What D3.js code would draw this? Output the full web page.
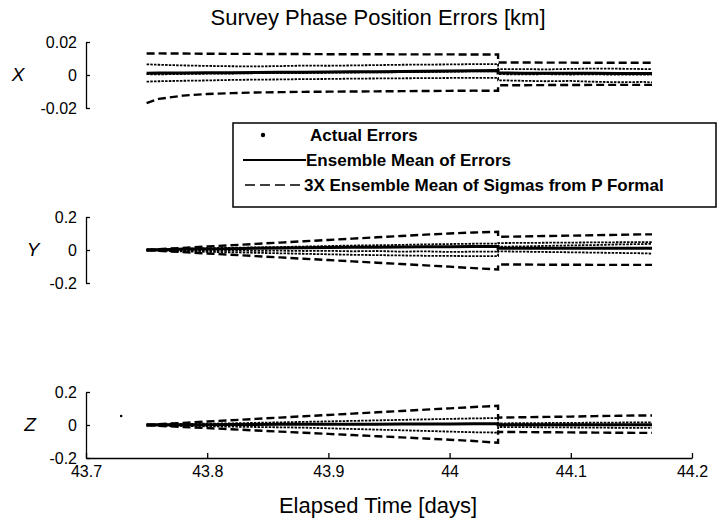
<!doctype html>
<html lang="en">
	<head>
		<meta charset="utf-8">
		<title>Survey Phase Position Errors</title>
		<script src="https://d3js.org/d3.v7.min.js"></script>
		<style>
			body { margin: 0; background: #fff; }
			text { font-family: 'Liberation Sans', Arial, sans-serif; fill: #000; }
			.axis path, .axis line { stroke: #000; stroke-width: 1.3px; }
			.sigma { fill: none; stroke: #000; stroke-width: 2.4px; stroke-dasharray: 8 4; }
			.mean { fill: none; stroke: #000; stroke-width: 3px; }
			.err { fill: none; stroke: #000; stroke-width: 1.8px; stroke-dasharray: 2.5 1.2; }
		</style>
	</head>
	<body>
		<div id="chart"></div>

		<script>
			// elapsed time grid [days]; 44.04 twice for the step
			let times = [43.75, 43.76, 43.78, 43.80, 43.82, 43.84, 43.86, 43.88, 43.90, 43.92, 43.94, 43.96,
				43.98, 44.00, 44.02, 44.04, 44.04, 44.06, 44.08, 44.10, 44.12, 44.14, 44.16, 44.167]

			let xTicks = [43.7, 43.8, 43.9, 44.0, 44.1, 44.2]

			// X component [km]
			let xSigUp = [0.013, 0.0131, 0.013, 0.0129, 0.0128, 0.0128, 0.0127, 0.0127, 0.0126, 0.0126, 0.0126, 0.0125,
				0.0125, 0.0125, 0.0124, 0.0124, 0.0076, 0.0076, 0.0075, 0.0075, 0.0074, 0.0074, 0.0074, 0.0074]
			let xSigLo = [-0.017, -0.0145, -0.0125, -0.0115, -0.011, -0.0106, -0.0104, -0.0102, -0.0101, -0.01, -0.0099, -0.0098,
				-0.0097, -0.0096, -0.0095, -0.0095, -0.0062, -0.0062, -0.0061, -0.0061, -0.006, -0.006, -0.006, -0.006]
			let xMean = [0.001, 0.0012, 0.0012, 0.0013, 0.0014, 0.0015, 0.0016, 0.0017, 0.0018, 0.0019, 0.002, 0.0021,
				0.0022, 0.0024, 0.0026, 0.0027, 0.0012, 0.0011, 0.0011, 0.001, 0.001, 0.0009, 0.0009, 0.0009]
			let xErr1 = [0.0065, 0.0062, 0.0058, 0.0055, 0.0053, 0.0052, 0.0054, 0.0057, 0.0056, 0.0058, 0.006, 0.0062,
				0.0063, 0.0064, 0.0066, 0.0066, 0.0035, 0.0036, 0.0034, 0.0037, 0.0039, 0.0038, 0.0036, 0.0036]
			let xErr2 = [-0.004, -0.0038, -0.0035, -0.0033, -0.003, -0.0028, -0.0027, -0.0025, -0.0024, -0.0022, -0.0021, -0.002,
				-0.0019, -0.0018, -0.0017, -0.0017, -0.0032, -0.0035, -0.0038, -0.0036, -0.0041, -0.0044, -0.0042, -0.0045]
			let xErr3 = [0.0005, 0.0004, 0.0006, 0.0008, 0.0009, 0.0011, 0.0012, 0.0012, 0.0014, 0.0015, 0.0016, 0.0017,
				0.0018, 0.002, 0.0022, 0.0022, 0.0005, 0.0004, 0.0005, 0.0003, 0.0004, 0.0002, 0.0003, 0.0003]

			// Y component [km]
			let ySigUp = [0.002, 0.005, 0.013, 0.021, 0.029, 0.037, 0.045, 0.053, 0.061, 0.069, 0.077, 0.085,
				0.093, 0.1, 0.106, 0.11, 0.08, 0.082, 0.085, 0.087, 0.09, 0.092, 0.095, 0.095]
			let ySigLo = [-0.002, -0.005, -0.013, -0.021, -0.029, -0.037, -0.045, -0.053, -0.061, -0.069, -0.077, -0.085,
				-0.093, -0.101, -0.11, -0.118, -0.088, -0.088, -0.089, -0.089, -0.09, -0.09, -0.09, -0.09]
			let yMean = [0.0, 0.002, 0.004, 0.006, 0.008, 0.01, 0.012, 0.014, 0.015, 0.016, 0.017, 0.018,
				0.019, 0.02, 0.021, 0.021, 0.01, 0.01, 0.01, 0.01, 0.011, 0.011, 0.011, 0.011]
			let yErr1 = [0.003, 0.005, 0.008, 0.011, 0.013, 0.016, 0.018, 0.021, 0.024, 0.027, 0.029, 0.031,
				0.034, 0.036, 0.038, 0.039, 0.042, 0.043, 0.044, 0.045, 0.046, 0.047, 0.048, 0.048]
			let yErr2 = [-0.003, -0.005, -0.008, -0.011, -0.014, -0.017, -0.02, -0.023, -0.026, -0.029, -0.031, -0.033,
				-0.035, -0.036, -0.037, -0.037, -0.008, -0.01, -0.012, -0.014, -0.016, -0.018, -0.02, -0.022]
			let yErr3 = [0.0, 0.0, -0.002, -0.004, -0.003, -0.005, -0.004, -0.006, -0.005, -0.008, -0.006, -0.01,
				-0.008, -0.012, -0.01, -0.01, 0.02, 0.022, 0.025, 0.028, 0.03, 0.034, 0.036, 0.038]

			// Z component [km]
			let zSigUp = [0.002, 0.005, 0.013, 0.021, 0.029, 0.037, 0.045, 0.053, 0.061, 0.069, 0.077, 0.085,
				0.093, 0.101, 0.109, 0.116, 0.045, 0.047, 0.049, 0.051, 0.054, 0.056, 0.058, 0.058]
			let zSigLo = [-0.002, -0.005, -0.012, -0.019, -0.026, -0.033, -0.04, -0.047, -0.054, -0.061, -0.068, -0.075,
				-0.082, -0.089, -0.097, -0.108, -0.042, -0.043, -0.044, -0.045, -0.046, -0.047, -0.048, -0.048]
			let zMean = [0.0, 0.001, 0.002, 0.002, 0.003, 0.003, 0.004, 0.004, 0.005, 0.005, 0.005, 0.006,
				0.006, 0.006, 0.007, 0.007, 0.002, 0.002, 0.002, 0.002, 0.002, 0.002, 0.002, 0.002]
			let zErr1 = [0.003, 0.004, 0.006, 0.008, 0.01, 0.013, 0.016, 0.019, 0.022, 0.025, 0.028, 0.031,
				0.034, 0.037, 0.04, 0.042, 0.01, 0.011, 0.012, 0.013, 0.014, 0.015, 0.016, 0.016]
			let zErr2 = [-0.003, -0.004, -0.006, -0.008, -0.01, -0.012, -0.014, -0.016, -0.02, -0.024, -0.028, -0.032,
				-0.036, -0.04, -0.044, -0.046, -0.012, -0.013, -0.014, -0.015, -0.016, -0.017, -0.018, -0.018]
			let zStray = [[43.729, 0.055]]

			let legendLabels = ['Actual Errors', 'Ensemble Mean of Errors', '3X Ensemble Mean of Sigmas from P Formal']

			let width = 718
			let height = 523
			let left = 86
			let right = 692

			let svg = d3.select('#chart')
				.append('svg')
				.attr('width', width)
				.attr('height', height)

			let x = d3.scaleLinear().domain([43.7, 44.2]).range([left, right])

			let fmt = v => v == 0 ? '0' : (v < 0 ? '-' : '') + Math.abs(v)

			let panels = [
				{name: 'X', lim: 0.02, top: 42, bottom: 108, labelX: 18, sig: [xSigUp, xSigLo], mean: xMean, errs: [xErr1, xErr2, xErr3], stray: []},
				{name: 'Y', lim: 0.2, top: 217, bottom: 283, labelX: 33, sig: [ySigUp, ySigLo], mean: yMean, errs: [yErr1, yErr2, yErr3], stray: []},
				{name: 'Z', lim: 0.2, top: 392, bottom: 458, labelX: 30, sig: [zSigUp, zSigLo], mean: zMean, errs: [zErr1, zErr2], stray: zStray},
			]

			panels.forEach((p, k) => {
				let y = d3.scaleLinear().domain([-p.lim, p.lim]).range([p.bottom, p.top])
				let line = d3.line()
					.x((d, i) => x(times[i]))
					.y(d => y(d))

				let g = svg.append('g')

				g.append('g')
					.attr('class', 'axis')
					.attr('transform', `translate(${left},0)`)
					.call(d3.axisLeft(y)
						.tickValues([-p.lim, 0, p.lim])
						.tickFormat(fmt)
						.tickSizeInner(-4)
						.tickSizeOuter(0)
						.tickPadding(9))
					.call(a => a.selectAll('text').style('font-size', '16px'))

				g.append('text')
					.attr('x', p.labelX)
					.attr('y', y(0) + 6)
					.attr('text-anchor', 'middle')
					.style('font-size', '19px')
					.style('font-style', 'italic')
					.text(p.name)

				p.errs.forEach(e => {
					g.append('path').attr('class', 'err').attr('d', line(e))
				})
				g.selectAll('circle.stray')
					.data(p.stray)
					.enter().append('circle')
					.attr('cx', d => x(d[0]))
					.attr('cy', d => y(d[1]))
					.attr('r', 1.3)

				g.append('path').attr('class', 'mean').attr('d', line(p.mean))
				p.sig.forEach(s => {
					g.append('path').attr('class', 'sigma').attr('d', line(s))
				})

				if (k == 2) {
					g.append('g')
						.attr('class', 'axis')
						.attr('transform', `translate(0,${p.bottom})`)
						.call(d3.axisBottom(x)
							.tickValues(xTicks)
							.tickFormat(d => d3.format('.1f')(d).replace('.0', ''))
							.tickSizeInner(-5)
							.tickSizeOuter(0)
							.tickPadding(8))
						.call(a => a.selectAll('text').style('font-size', '16px'))
				}
			})

			svg.append('text')
				.attr('x', 378)
				.attr('y', 25)
				.attr('text-anchor', 'middle')
				.style('font-size', '22px')
				.text('Survey Phase Position Errors [km]')

			svg.append('text')
				.attr('x', 378)
				.attr('y', 513)
				.attr('text-anchor', 'middle')
				.style('font-size', '22px')
				.text('Elapsed Time [days]')

			// legend
			let lg = svg.append('g')
			lg.append('rect')
				.attr('x', 233)
				.attr('y', 123)
				.attr('width', 483)
				.attr('height', 84)
				.attr('fill', '#fff')
				.attr('stroke', '#000')
				.attr('stroke-width', 1.5)

			lg.append('circle').attr('cx', 263).attr('cy', 135).attr('r', 2.2)
			lg.append('line').attr('class', 'mean').attr('x1', 243).attr('x2', 306).attr('y1', 160).attr('y2', 160)
				.style('stroke-width', '2px')
			lg.append('line').attr('class', 'sigma').attr('x1', 245).attr('x2', 303).attr('y1', 185).attr('y2', 185)
				.style('stroke-width', '1.6px').style('stroke-dasharray', '10 5')

			lg.selectAll('text.lbl')
				.data(legendLabels)
				.enter().append('text')
				.attr('x', (d, i) => [310, 306, 304][i])
				.attr('y', (d, i) => 141 + i * 25)
				.style('font-size', '17px')
				.style('font-weight', 'bold')
				.text(d => d)
		</script>
	</body>
</html>
